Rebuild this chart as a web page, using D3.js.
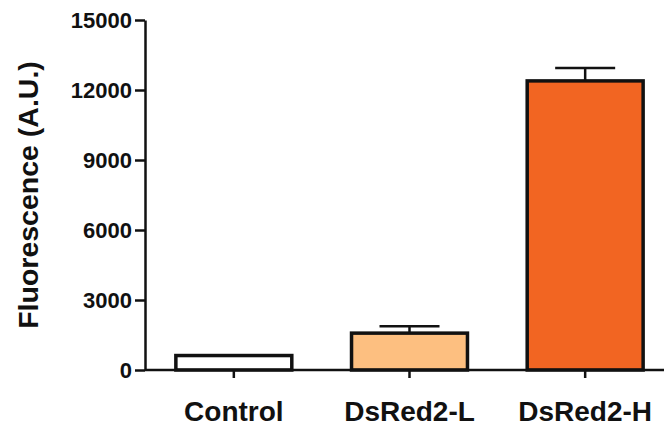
<!DOCTYPE html>
<html>
<head>
<meta charset="utf-8">
<script src="https://cdn.jsdelivr.net/npm/d3@7"></script>
<style>
  body { margin: 0; background: #fff; }
  svg { display: block; font-family: "Liberation Sans", Arial, Helvetica, sans-serif; font-weight: bold; }
</style>
</head>
<body>
<div id="chart"></div>
<script>
const categories = ["Control", "DsRed2-L", "DsRed2-H"];
const means = [620, 1580, 12390];
const errors = [0, 300, 550];
const fills = ["#ffffff", "#fdbf80", "#f26522"];
const yTicks = [0, 3000, 6000, 9000, 12000, 15000];

const width = 664, height = 427;

const svg = d3.select("#chart")
    .append("svg")
    .attr("width", width)
    .attr("height", height);

const x = d3.scaleBand()
    .domain(categories)
    .range([146, 673])
    .paddingInner(0.34)
    .paddingOuter(0.17);

const y = d3.scaleLinear()
    .domain([0, 15000])
    .range([370, 20]);

const data = categories.map((c, i) => ({ name: c, value: means[i], err: errors[i], fill: fills[i] }));

// bars
svg.selectAll(".bar")
    .data(data)
    .enter()
    .append("rect")
    .attr("class", "bar")
    .attr("x", d => x(d.name))
    .attr("width", x.bandwidth())
    .attr("y", d => y(d.value))
    .attr("height", d => y(0) - y(d.value))
    .attr("fill", d => d.fill)
    .attr("stroke", "#111")
    .attr("stroke-width", 3.5);

// error bars (upper only)
const eb = svg.selectAll(".err")
    .data(data.filter(d => d.err > 0))
    .enter()
    .append("g")
    .attr("class", "err")
    .attr("stroke", "#111")
    .attr("stroke-width", 2.5);

eb.append("line")
    .attr("x1", d => x(d.name) + x.bandwidth() / 2)
    .attr("x2", d => x(d.name) + x.bandwidth() / 2)
    .attr("y1", d => y(d.value))
    .attr("y2", d => y(d.value + d.err));

eb.append("line")
    .attr("x1", d => x(d.name) + x.bandwidth() / 2 - 30)
    .attr("x2", d => x(d.name) + x.bandwidth() / 2 + 30)
    .attr("y1", d => y(d.value + d.err))
    .attr("y2", d => y(d.value + d.err));

// y axis
const yAxis = svg.append("g")
    .attr("transform", "translate(145,0)")
    .call(d3.axisLeft(y).tickValues(yTicks).tickFormat(d3.format("d"))
        .tickSize(10).tickPadding(3).tickSizeOuter(0));

// x axis
const xAxis = svg.append("g")
    .attr("transform", "translate(0," + y(0) + ")")
    .call(d3.axisBottom(x).tickSize(8).tickPadding(23).tickSizeOuter(0));

xAxis.select(".domain").attr("d", "M145,0H673");

[yAxis, xAxis].forEach(g => {
    g.selectAll(".domain, .tick line").attr("stroke", "#111").attr("stroke-width", 2.5);
    g.selectAll("text").attr("fill", "#111").attr("font-family", null);
});
yAxis.selectAll("text").attr("font-size", 22);
xAxis.selectAll("text").attr("font-size", 28);

// y label
svg.append("text")
    .attr("transform", "translate(38,195) rotate(-90)")
    .attr("text-anchor", "middle")
    .attr("font-size", 28.5)
    .attr("fill", "#111")
    .text("Fluorescence (A.U.)");
</script>
</body>
</html>
